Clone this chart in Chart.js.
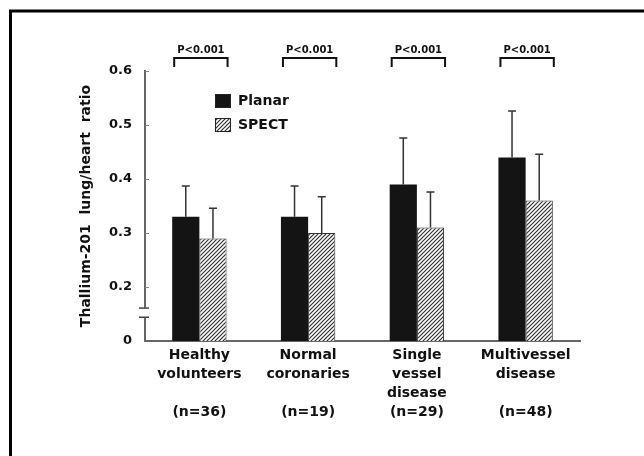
<!DOCTYPE html>
<html>
<head>
<meta charset="utf-8">
<script src="https://cdn.jsdelivr.net/npm/chart.js@4.4.1/dist/chart.umd.min.js"></script>
<style>
    html, body { margin: 0; padding: 0; background: #fff; }
    canvas { display: block; }
</style>
</head>
<body>
<canvas id="chart" width="644" height="456"></canvas>
<script>
// data
const categories = [
    ['Healthy', 'volunteers', '', '(n=36)'],
    ['Normal', 'coronaries', '', '(n=19)'],
    ['Single', 'vessel', 'disease', '(n=29)'],
    ['Multivessel', 'disease', '', '(n=48)']
];
const planarValues = [0.33, 0.33, 0.39, 0.44];
const planarErrors = [0.057, 0.057, 0.086, 0.086];
const spectValues = [0.29, 0.30, 0.31, 0.36];
const spectErrors = [0.056, 0.067, 0.066, 0.086];
const pLabels = ['P<0.001', 'P<0.001', 'P<0.001', 'P<0.001'];

// broken axis: the bottom tick sits where 0.1 would be and is labelled 0
const yTickValues = [0.1, 0.2, 0.3, 0.4, 0.5, 0.6];
const yTickLabels = ['0', '0.2', '0.3', '0.4', '0.5', '0.6'];
const axisBreak = [0.144, 0.161];

const FONT = "'DejaVu Sans', sans-serif";
const INK = '#111';
const AXIS = '#666';

function makeHatch() {
    const size = 4;
    const c = document.createElement('canvas');
    c.width = size;
    c.height = size;
    const g = c.getContext('2d');
    g.fillStyle = '#fff';
    g.fillRect(0, 0, size, size);
    g.strokeStyle = '#333';
    g.lineWidth = 1.2;
    g.beginPath();
    g.moveTo(0, size); g.lineTo(size, 0);
    g.moveTo(-1, 1); g.lineTo(1, -1);
    g.moveTo(size - 1, size + 1); g.lineTo(size + 1, size - 1);
    g.stroke();
    return g.createPattern(c, 'repeat');
}

const hatch = makeHatch();
const errorSets = [planarErrors, spectErrors];

const framePlugin = {
    id: 'frame',
    beforeDraw(chart) {
        const ctx = chart.ctx;
        ctx.save();
        ctx.fillStyle = '#fff';
        ctx.fillRect(0, 0, chart.width, chart.height);
        ctx.strokeStyle = '#000';
        ctx.lineWidth = 3;
        ctx.beginPath();
        ctx.moveTo(10.5, chart.height);
        ctx.lineTo(10.5, 11);
        ctx.lineTo(chart.width, 11);
        ctx.stroke();
        ctx.restore();
    }
};

const errorBarPlugin = {
    id: 'errorBars',
    afterDatasetsDraw(chart) {
        const ctx = chart.ctx;
        const y = chart.scales.y;
        ctx.save();
        ctx.strokeStyle = '#333';
        ctx.lineWidth = 1.5;
        chart.data.datasets.forEach(function (ds, i) {
            chart.getDatasetMeta(i).data.forEach(function (bar, j) {
                const top = y.getPixelForValue(ds.data[j] + errorSets[i][j]);
                ctx.beginPath();
                ctx.moveTo(bar.x, bar.y);
                ctx.lineTo(bar.x, top);
                ctx.moveTo(bar.x - 4, top);
                ctx.lineTo(bar.x + 4, top);
                ctx.stroke();
            });
        });
        ctx.restore();
    }
};

const annotatePlugin = {
    id: 'annotate',
    afterDraw(chart) {
        const ctx = chart.ctx;
        const area = chart.chartArea;
        const y = chart.scales.y;
        const planarBars = chart.getDatasetMeta(0).data;
        const spectBars = chart.getDatasetMeta(1).data;
        ctx.save();

        // P-value brackets
        ctx.strokeStyle = INK;
        ctx.lineWidth = 2;
        ctx.fillStyle = INK;
        ctx.font = 'bold 10px ' + FONT;
        ctx.textAlign = 'center';
        ctx.textBaseline = 'middle';
        pLabels.forEach(function (label, i) {
            const l = planarBars[i].x - planarBars[i].width / 2 + 2;
            const r = spectBars[i].x + spectBars[i].width / 2 + 1;
            const top = area.top - 13;
            ctx.beginPath();
            ctx.moveTo(l, area.top - 4);
            ctx.lineTo(l, top);
            ctx.lineTo(r, top);
            ctx.lineTo(r, area.top - 4);
            ctx.stroke();
            ctx.fillText(label, (l + r) / 2, area.top - 21);
        });

        // legend
        ctx.font = 'bold 14px ' + FONT;
        ctx.textAlign = 'left';
        const lx = area.left + 70;
        chart.data.datasets.forEach(function (ds, i) {
            const ly = area.top + 23 + i * 24;
            ctx.fillStyle = ds.backgroundColor;
            ctx.fillRect(lx, ly, 16, 14);
            ctx.lineWidth = 1;
            ctx.strokeStyle = '#222';
            ctx.strokeRect(lx + 0.5, ly + 0.5, 15, 13);
            ctx.fillStyle = INK;
            ctx.fillText(ds.label, lx + 23, ly + 7);
        });

        // small inward ticks on the y axis
        ctx.strokeStyle = '#888';
        ctx.lineWidth = 1;
        yTickValues.slice(1).forEach(function (v) {
            const py = Math.round(y.getPixelForValue(v)) + 0.5;
            ctx.beginPath();
            ctx.moveTo(area.left, py);
            ctx.lineTo(area.left + 4, py);
            ctx.stroke();
        });

        // axis break
        const b0 = y.getPixelForValue(axisBreak[0]);
        const b1 = y.getPixelForValue(axisBreak[1]);
        ctx.fillStyle = '#fff';
        ctx.fillRect(area.left - 3, b1, 6, b0 - b1);
        ctx.strokeStyle = '#444';
        ctx.lineWidth = 1.5;
        [b0, b1].forEach(function (py) {
            ctx.beginPath();
            ctx.moveTo(area.left - 6, py);
            ctx.lineTo(area.left + 4, py);
            ctx.stroke();
        });
        ctx.restore();
    }
};

new Chart(document.getElementById('chart'), {
    type: 'bar',
    data: {
        labels: categories,
        datasets: [
            {
                label: 'Planar',
                data: planarValues,
                backgroundColor: '#141414',
                borderColor: '#141414',
                borderWidth: 0
            },
            {
                label: 'SPECT',
                data: spectValues,
                backgroundColor: hatch,
                borderColor: '#333',
                borderWidth: 1
            }
        ]
    },
    options: {
        responsive: false,
        animation: false,
        devicePixelRatio: 1,
        categoryPercentage: 0.5,
        barPercentage: 1.0,
        layout: {
            padding: { left: 10, top: 71, right: 64, bottom: 0 }
        },
        plugins: {
            legend: { display: false },
            tooltip: { enabled: false }
        },
        scales: {
            x: {
                grid: { display: false, drawTicks: false },
                border: { display: true, color: AXIS, width: 2 },
                ticks: {
                    color: INK,
                    padding: 5,
                    maxRotation: 0,
                    autoSkip: false,
                    font: { family: FONT, weight: 'bold', size: 14, lineHeight: 1.36 }
                },
                afterFit: function (scale) {
                    scale.height = 115;
                }
            },
            y: {
                min: 0.1,
                max: 0.6,
                grid: { display: false, drawTicks: false },
                border: { display: true, color: AXIS, width: 2 },
                afterBuildTicks: function (scale) {
                    scale.ticks = yTickValues.map(function (v) { return { value: v }; });
                },
                ticks: {
                    color: INK,
                    padding: 13,
                    font: { family: FONT, weight: 'bold', size: 13 },
                    callback: function (value, index) {
                        return yTickLabels[index];
                    }
                },
                title: {
                    display: true,
                    text: 'Thallium-201  lung/heart  ratio',
                    color: INK,
                    padding: { top: 68, bottom: 0 },
                    font: { family: FONT, weight: 'bold', size: 14 }
                },
                afterFit: function (scale) {
                    scale.width = 135;
                }
            }
        }
    },
    plugins: [framePlugin, errorBarPlugin, annotatePlugin]
});
</script>
</body>
</html>
